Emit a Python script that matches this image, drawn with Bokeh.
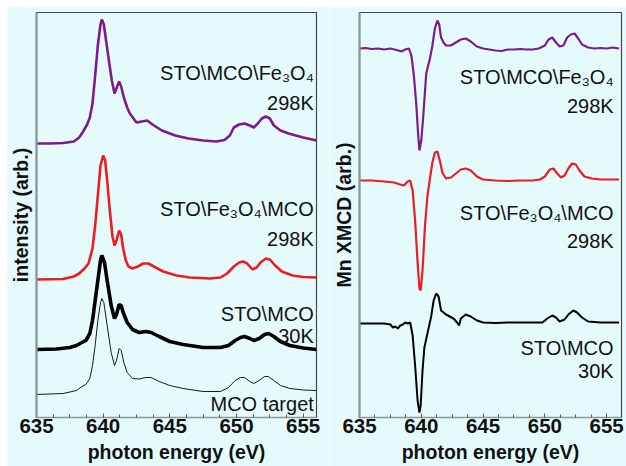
from bokeh.plotting import figure
from bokeh.layouts import row
from bokeh.models import Range1d, FixedTicker, ColumnDataSource
from bokeh.core.properties import value
from bokeh.embed import file_html
from bokeh.resources import INLINE

# ---------------- data ----------------
# Left panel: Mn L-edge XAS, offset spectra (arb. units)
xas_purple_e = [635.0, 636.0, 637.0, 637.8, 638.2, 638.5, 638.8, 639.0, 639.2, 639.4, 639.6, 639.8, 639.9,
                640.05, 640.25, 640.45, 640.65, 640.85, 641.05, 641.2, 641.35, 641.55, 641.8, 642.0, 642.5,
                642.9, 643.3, 643.7, 644.4, 645.4, 646.4, 647.5, 648.5, 649.1, 649.5, 649.8, 650.2, 650.6,
                651.0, 651.3, 651.6, 651.9, 652.2, 652.5, 652.8, 653.3, 653.9, 655.0, 656.0]
xas_purple_i = [274, 274, 274.5, 276, 280, 286, 293, 300, 314, 342, 372, 393, 398,
                393, 374, 355, 337, 324, 331, 336, 331, 320, 310, 304, 295,
                296, 297, 293, 287, 282, 279, 277, 276, 277.5, 282, 290, 293, 294,
                292, 290, 294, 299, 301, 299, 292, 287, 284, 280, 277]

xas_red_e = [635.0, 637.0, 637.8, 638.2, 638.6, 638.9, 639.2, 639.4, 639.6, 639.8, 640.0, 640.15, 640.3,
             640.5, 640.7, 640.85, 641.0, 641.2, 641.35, 641.5, 641.7, 641.9, 642.2, 642.6, 643.0, 643.4,
             643.8, 644.5, 645.5, 646.5, 648.0, 648.8, 649.3, 649.8, 650.2, 650.5, 650.8, 651.2, 651.5,
             651.8, 652.2, 652.5, 652.9, 653.4, 654.2, 655.0, 656.0]
xas_red_i = [138, 138.5, 141, 144, 149, 154, 169, 192, 222, 252, 262, 257, 237,
             207, 181, 172, 177, 187, 183, 169, 157, 151, 149, 151, 154, 154,
             151, 146, 142, 140, 139, 140, 144, 151, 155, 156, 154, 148, 150,
             155, 159, 158, 152, 146, 142, 140.5, 140]

xas_black_e = [635.0, 636.5, 637.5, 638.0, 638.4, 638.7, 639.0, 639.2, 639.4, 639.6, 639.8, 639.9, 640.1,
               640.3, 640.6, 640.85, 641.0, 641.2, 641.35, 641.5, 641.8, 642.2, 642.7, 643.2, 643.6, 644.2,
               645.0, 646.0, 647.5, 648.8, 649.4, 649.9, 650.3, 650.6, 651.0, 651.3, 651.7, 652.1, 652.4,
               652.8, 653.3, 654.0, 655.0, 656.0]
xas_black_i = [68, 68.5, 70, 72, 75, 77, 84, 97, 117, 137, 157, 162, 155,
               137, 112, 99, 103, 113, 112, 105, 95, 88, 85, 86, 85, 81,
               76, 73, 70, 70, 72, 77, 80, 81, 79, 77, 79, 83, 84,
               81, 76, 72, 69.5, 68]

xas_target_e = [635.0, 637.0, 638.0, 638.4, 638.7, 639.0, 639.2, 639.4, 639.6, 639.8, 639.9, 640.05, 640.3,
                640.6, 640.85, 641.0, 641.2, 641.35, 641.55, 641.8, 642.2, 642.7, 643.2, 643.6, 644.2, 645.0,
                646.0, 647.5, 648.8, 649.4, 649.9, 650.3, 650.6, 651.0, 651.3, 651.7, 652.1, 652.4, 652.8,
                653.3, 654.0, 655.0, 656.0]
xas_target_i = [23, 24, 27, 31, 33, 39, 52, 72, 97, 115, 119, 115, 92,
                65, 52, 57, 69, 67, 55, 45, 39, 38.5, 40, 40, 36, 32,
                29, 26, 26, 30, 37, 40, 40, 36, 34, 37, 41, 41, 37,
                32, 29, 27.5, 27]

# Right panel: Mn XMCD, offset spectra (arb. units)
mcd_purple_e = [635.0, 635.5, 636.0, 636.5, 637.0, 637.5, 638.0, 638.4, 638.7, 639.0, 639.2, 639.4, 639.6,
                639.75, 639.85, 640.0, 640.15, 640.4, 640.7, 640.9, 641.1, 641.3, 641.45, 641.6, 641.8, 642.0,
                642.4, 642.8, 643.2, 643.6, 644.0, 644.5, 645.0, 645.5, 646.0, 646.5, 647.0, 647.5, 648.0,
                648.5, 649.0, 649.5, 650.0, 650.3, 650.6, 650.9, 651.2, 651.5, 651.8, 652.1, 652.4, 652.7,
                653.0, 653.5, 654.0, 654.5, 655.0, 655.5, 656.0]
mcd_purple_i = [369, 369.5, 368.5, 369, 368, 369, 367.5, 366, 368, 369, 362, 342, 312,
                282, 267, 277, 300, 344, 359, 372, 389, 397, 393, 380, 375, 372,
                372, 375, 378, 379, 376, 371, 369, 368, 367, 366.5, 368, 368, 368.5,
                368, 368, 369, 372, 378, 380, 375, 371, 372, 380, 383, 384, 379,
                373, 370, 369, 369.5, 369, 370, 369]

mcd_red_e = [635.0, 636.0, 637.0, 637.8, 638.3, 638.6, 638.9, 639.1, 639.3, 639.5, 639.7, 639.85, 639.95,
             640.1, 640.3, 640.5, 640.7, 640.9, 641.1, 641.3, 641.5, 641.7, 642.0, 642.4, 642.8, 643.2,
             643.6, 644.0, 644.5, 645.0, 646.0, 647.0, 648.0, 649.0, 649.6, 650.0, 650.4, 650.7, 651.0,
             651.3, 651.6, 651.9, 652.2, 652.5, 652.8, 653.2, 653.8, 654.5, 655.5, 656.0]
mcd_red_i = [237, 237, 236, 235, 233, 232, 236, 237, 227, 197, 155, 129, 127,
             147, 192, 222, 239, 255, 265, 266, 257, 245, 239, 240, 244, 248,
             249, 247, 241, 238, 237, 236.5, 237, 237, 238, 241, 248, 249, 244,
             240, 242, 249, 254, 253, 247, 241, 239, 238, 238, 238]

mcd_black_e = [635.0, 636.0, 637.0, 637.5, 637.7, 637.9, 638.1, 638.3, 638.5, 638.7, 638.9, 639.1, 639.3,
               639.5, 639.7, 639.85, 639.95, 640.1, 640.25, 640.55, 640.8, 641.0, 641.2, 641.4, 641.6, 642.0,
               642.6, 642.9, 643.05, 643.2, 643.6, 644.0, 644.5, 645.0, 646.0, 647.0, 648.0, 649.0, 649.8,
               650.2, 650.6, 650.9, 651.2, 651.6, 651.9, 652.3, 652.6, 653.0, 653.5, 654.5, 655.5, 656.0]
mcd_black_i = [94, 94, 94, 93, 90, 91, 89, 92, 93, 95, 94, 95, 82,
               52, 17, 5, 12, 47, 70, 87, 101, 117, 124, 121, 107, 103,
               99, 95, 92, 99, 103, 101, 97, 95, 94.5, 95, 95, 95, 95,
               99, 102, 100, 96, 98, 103, 107, 105, 100, 96, 95, 95, 95]

x_ticks = [635, 640, 645, 650, 655]

left_labels = ["STO\\MCO\\Fe\u2083O\u2084", "298K", "STO\\Fe\u2083O\u2084\\MCO", "298K",
               "STO\\MCO", "30K", "MCO target"]
left_label_y = [345, 315, 209, 179, 104, 82, 14]
right_labels = ["STO\\MCO\\Fe\u2083O\u2084", "298K", "STO\\Fe\u2083O\u2084\\MCO", "298K",
                "STO\\MCO", "30K"]
right_label_y = [341, 312, 205, 177, 70, 47]

# ---------------- styling ----------------
BG = "#e5fbfb"
PURPLE = "#7d1a8e"
RED = "#ec1b24"
BLACK = "#000000"
FONT = "Liberation Sans"


def make_fig(width, border_left, border_right, border_top, x_end, ylabel):
    p = figure(width=width, height=460, output_backend="svg", toolbar_location=None,
               x_range=Range1d(635, x_end), y_range=Range1d(0, 405),
               min_border_left=border_left, min_border_right=border_right,
               min_border_top=border_top, min_border_bottom=49)
    p.background_fill_color = BG
    p.border_fill_color = BG
    p.outline_line_color = "#474747"
    p.outline_line_width = 1.2
    p.grid.visible = False

    xa = p.xaxis[0]
    xa.ticker = FixedTicker(ticks=x_ticks,
                            minor_ticks=[635 + 1.25 * k for k in range(17)])
    xa.major_tick_in = 4
    xa.major_tick_out = 0
    xa.minor_tick_in = 3
    xa.minor_tick_out = 0
    xa.major_tick_line_color = "#555555"
    xa.minor_tick_line_color = "#555555"
    xa.axis_line_color = "#8a9898"
    xa.axis_line_width = 1.5
    xa.major_label_text_font = FONT
    xa.major_label_text_font_style = "bold"
    xa.major_label_text_font_size = "20.5px"
    xa.major_label_text_color = "#111111"
    xa.major_label_standoff = 1
    xa.axis_label = "photon energy (eV)"
    xa.axis_label_text_font = FONT
    xa.axis_label_text_font_style = "bold"
    xa.axis_label_text_font_size = "19.5px"
    xa.axis_label_text_color = "#111111"
    xa.axis_label_standoff = 5

    ya = p.yaxis[0]
    ya.ticker = FixedTicker(ticks=[])
    ya.major_tick_in = 0
    ya.major_tick_out = 0
    ya.minor_tick_in = 0
    ya.minor_tick_out = 0
    ya.axis_line_color = "#8a9898"
    ya.axis_line_width = 2.2
    ya.axis_label = ylabel
    ya.axis_label_text_font = FONT
    ya.axis_label_text_font_style = "bold"
    ya.axis_label_text_font_size = "19.5px"
    ya.axis_label_text_color = "#111111"
    ya.axis_label_standoff = 5
    return p


p1 = make_fig(323, 29, 13, 6, 656.0, "intensity (arb.)")
p1.line(xas_purple_e, xas_purple_i, line_color=PURPLE, line_width=2.6)
p1.line(xas_red_e, xas_red_i, line_color=RED, line_width=2.6)
p1.line(xas_black_e, xas_black_i, line_color=BLACK, line_width=3.6)
p1.line(xas_target_e, xas_target_i, line_color=BLACK, line_width=0.9)
src1 = ColumnDataSource(dict(x=[655.8] * len(left_labels), y=left_label_y, t=left_labels))
p1.text(x="x", y="y", text="t", source=src1, text_align="right", text_baseline="middle",
        text_font=value(FONT), text_font_size="20px", text_color="#111111")

p2 = make_fig(297, 29, 5, 5, 656.2, "Mn XMCD (arb.)")
p2.line(mcd_purple_e, mcd_purple_i, line_color=PURPLE, line_width=2.2)
p2.line(mcd_red_e, mcd_red_i, line_color=RED, line_width=2.2)
p2.line(mcd_black_e, mcd_black_i, line_color=BLACK, line_width=2.0)
src2 = ColumnDataSource(dict(x=[655.56] * len(right_labels), y=right_label_y, t=right_labels))
p2.text(x="x", y="y", text="t", source=src2, text_align="right", text_baseline="middle",
        text_font=value(FONT), text_font_size="20px", text_color="#111111")

p1.margin = (6, 0, 0, 6)
p2.margin = (6, 0, 0, 0)

layout = row(p1, p2)
open("out.html", "w").write(file_html(layout, INLINE))
